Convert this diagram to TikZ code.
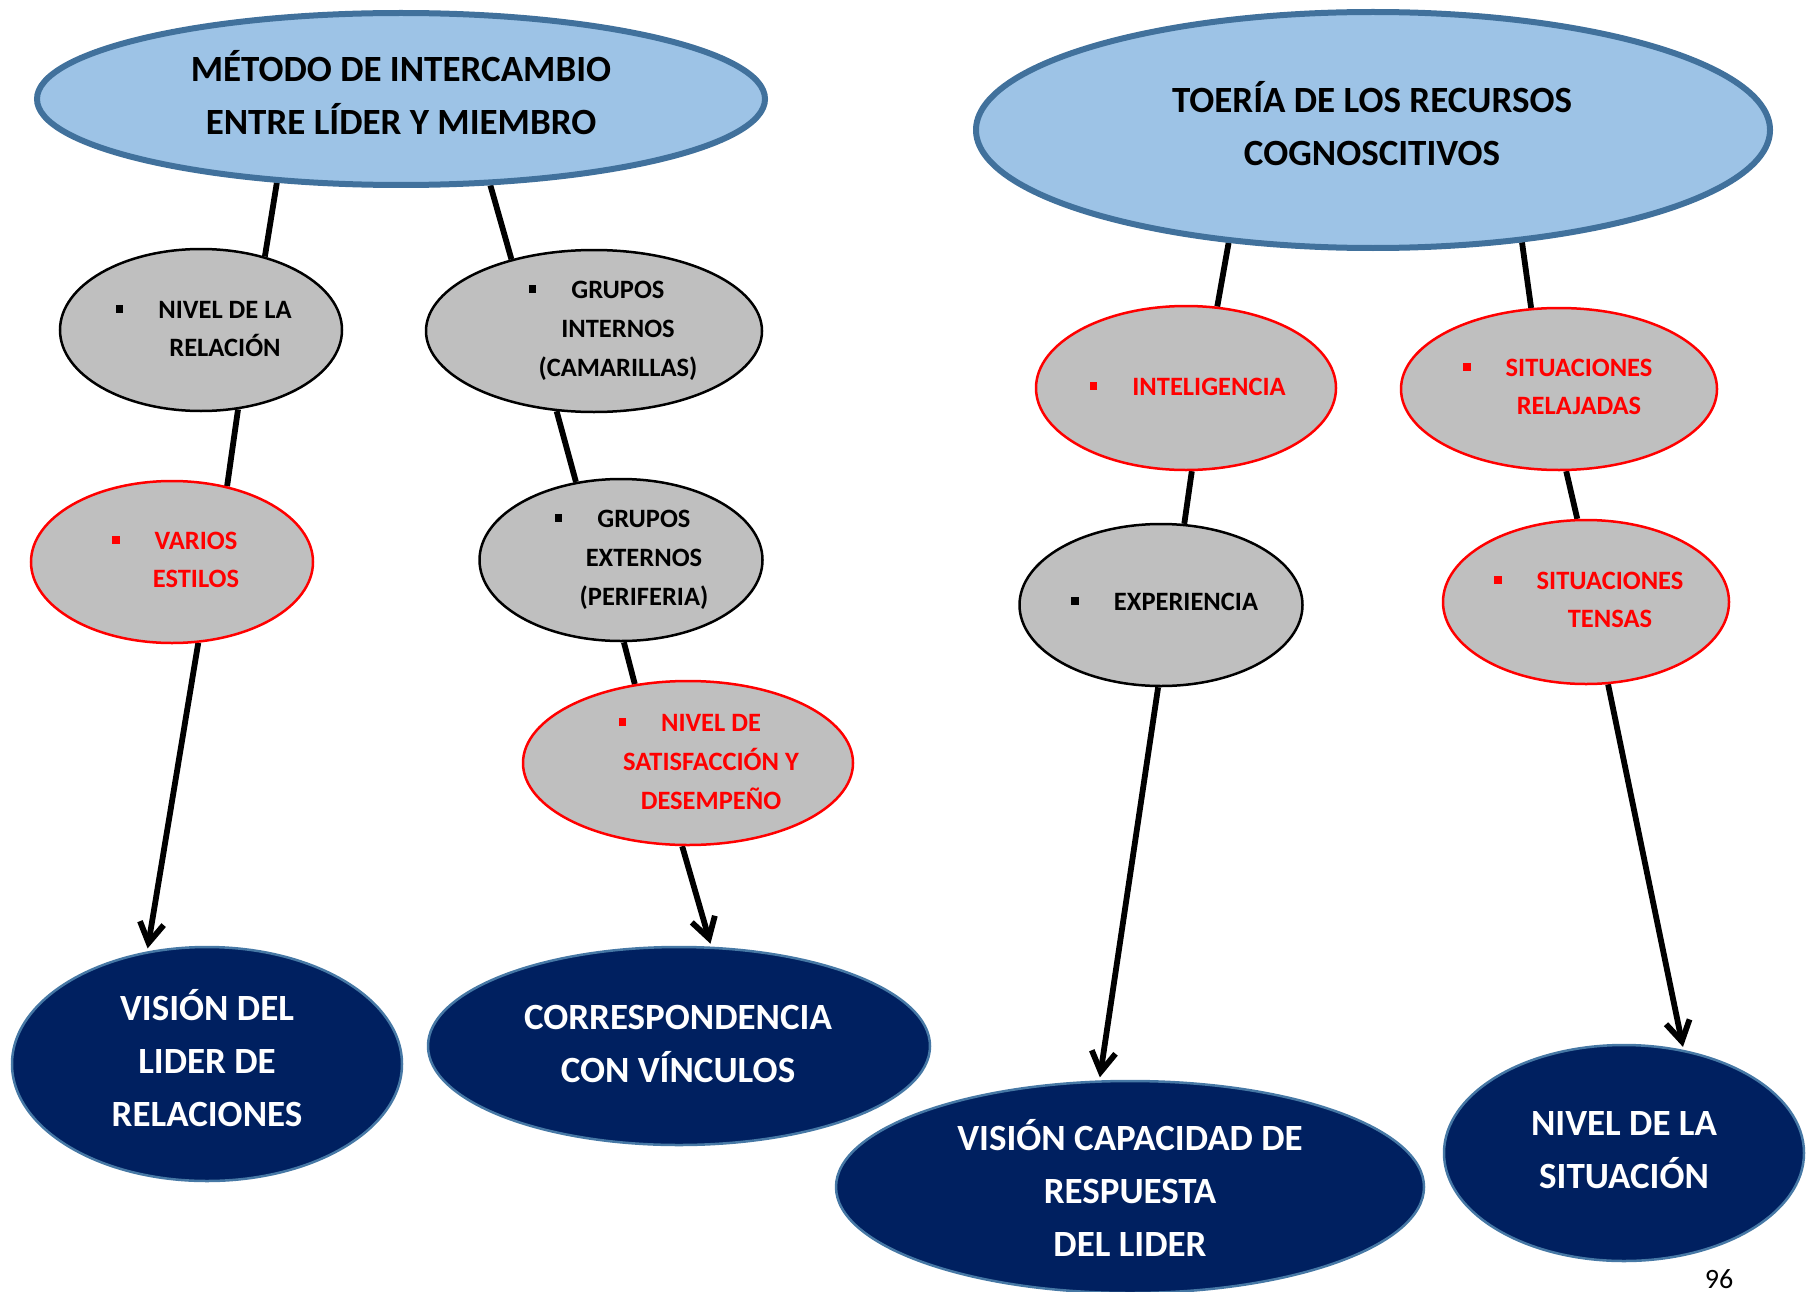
\documentclass[tikz,border=0pt]{standalone}
\usepackage{fontspec}
\setmainfont{Carlito}
\usetikzlibrary{shapes.geometric,arrows.meta}
\pgfdeclarelayer{bg}
\pgfsetlayers{bg,main}

\definecolor{titlefill}{RGB}{157,195,230}
\definecolor{titleline}{RGB}{65,113,156}
\definecolor{nodegray}{RGB}{191,191,191}
\definecolor{navy}{RGB}{0,32,96}
\definecolor{navyline}{RGB}{70,120,165}
\definecolor{hired}{RGB}{255,0,0}

% square list marker hanging left of the first line
\newcommand\sqmark{\llap{\rule[5.5pt]{7.5pt}{8pt}\hspace{35pt}}}

% text boxes run from the cap top of the first line to the baseline of the last,
% so the node centre is the visual centre of the block
% (cap height + (lines-1) * line spacing)
\tikzset{
  title/.style={ellipse, draw=titleline, line width=6pt, fill=titlefill, inner sep=0pt},
  item/.style={ellipse, draw=black, line width=2.5pt, fill=nodegray, inner sep=0pt},
  hot/.style={ellipse, draw=hired, line width=2.5pt, fill=nodegray, inner sep=0pt},
  result/.style={ellipse, draw=navyline, line width=2.5pt, fill=navy, inner sep=0pt},
  bigtxt/.style={align=center, inner sep=0pt, text height=#1, text depth=0pt,
    font=\fontsize{37}{53}\selectfont\bfseries},
  bigtxt/.default=24pt,
  smalltxt/.style={align=center, inner sep=0pt, text height=#1, text depth=0pt,
    font=\fontsize{26.5}{38.7}\selectfont\bfseries},
  smalltxt/.default=17pt,
  link/.style={line width=5.8pt, black},
  arrowlink/.style={link, -{Straight Barb[length=20pt,width=24pt]}, shorten >=3pt},
}

\begin{document}
\begin{tikzpicture}[x=1pt, y=-1pt]
\useasboundingbox (0,0) rectangle (1811,1292);

% ---- headings
\node[title, minimum width=728pt, minimum height=172pt] (metodo) at (401,99) {};
\node[bigtxt=77pt] (metodo-t) at (401,96) {MÉTODO DE INTERCAMBIO\\ENTRE LÍDER Y MIEMBRO};

\node[title, minimum width=794pt, minimum height=236pt] (toeria) at (1373,130) {};
\node[bigtxt=77pt] (toeria-t) at (1372,127) {TOERÍA DE LOS RECURSOS\\COGNOSCITIVOS};

% ---- left branch items
\node[item, minimum width=282pt, minimum height=162pt] (nivel) at (201,330) {};
\node[smalltxt=55.7pt] (nivel-t) at (225,329) {\sqmark NIVEL DE LA\\RELACIÓN};

\node[hot, minimum width=282pt, minimum height=162pt] (varios) at (172,562) {};
\node[smalltxt=55.7pt, text=hired] (varios-t) at (196,560) {\sqmark VARIOS\\ESTILOS};

\node[item, minimum width=336pt, minimum height=162pt] (gint) at (594,331) {};
\node[smalltxt=94.4pt] (gint-t) at (618,329) {\sqmark GRUPOS\\INTERNOS\\(CAMARILLAS)};

\node[item, minimum width=283pt, minimum height=162pt] (gext) at (621,560) {};
\node[smalltxt=94.4pt] (gext-t) at (644,558) {\sqmark GRUPOS\\EXTERNOS\\(PERIFERIA)};

\node[hot, minimum width=330pt, minimum height=164pt] (sat) at (688,763) {};
\node[smalltxt=94.4pt, text=hired] (sat-t) at (711,762) {\sqmark NIVEL DE\\SATISFACCIÓN Y\\DESEMPEÑO};

% ---- right branch items
\node[hot, minimum width=300pt, minimum height=164pt] (intel) at (1186,388) {};
\node[smalltxt, text=hired] (intel-t) at (1209,387) {\sqmark INTELIGENCIA};

\node[hot, minimum width=316pt, minimum height=162pt] (relaj) at (1559,389) {};
\node[smalltxt=55.7pt, text=hired] (relaj-t) at (1579,387) {\sqmark SITUACIONES\\RELAJADAS};

\node[item, minimum width=283pt, minimum height=162pt] (exper) at (1161,605) {};
\node[smalltxt] (exper-t) at (1186,602) {\sqmark EXPERIENCIA};

\node[hot, minimum width=286pt, minimum height=164pt] (tensas) at (1586,602) {};
\node[smalltxt=55.7pt, text=hired] (tensas-t) at (1610,600) {\sqmark SITUACIONES\\TENSAS};

% ---- outcomes
\node[result, minimum width=390pt, minimum height=234pt] (vis) at (207,1064) {};
\node[bigtxt=130pt, text=white] (vis-t) at (207,1061) {VISIÓN DEL\\LIDER DE\\RELACIONES};

\node[result, minimum width=502pt, minimum height=198pt] (corr) at (679,1046) {};
\node[bigtxt=77pt, text=white] (corr-t) at (678,1044) {CORRESPONDENCIA\\CON VÍNCULOS};

\node[result, minimum width=588pt, minimum height=212pt] (vcap) at (1130,1187) {};
\node[bigtxt=130pt, text=white] (vcap-t) at (1130,1191) {VISIÓN CAPACIDAD DE\\RESPUESTA\\DEL LIDER};

\node[result, minimum width=360pt, minimum height=216pt] (nsit) at (1624,1153) {};
\node[bigtxt=77pt, text=white] (nsit-t) at (1624,1150) {NIVEL DE LA\\SITUACIÓN};

% page number
\node[anchor=north, inner sep=0pt, font=\fontsize{28}{30}\selectfont] (pagenum) at (1719,1269) {96};

% ---- connectors
\begin{pgfonlayer}{bg}
\draw[link] (metodo.214.7) -- (nivel.49);
\draw[link] (metodo.-44) -- (gint.139.3);
\draw[link] (nivel.-65.7) -- (varios.54.9);
\draw[arrowlink] (varios.-72.6) -- (vis.118.5);
\draw[link] (gint.-115.1) -- (gext.120.1);
\draw[link] (gext.-88.6) -- (sat.124.7);
\draw[arrowlink] (sat.-94.9) -- (corr.72);

\draw[link] (toeria.-142.3) -- (intel.69.6);
\draw[link] (toeria.-37.3) -- (relaj.109.5);
\draw[link] (intel.-86.5) -- (exper.74.3);
\draw[arrowlink] (exper.-92.8) -- (vcap.106.4);
\draw[link] (relaj.-85.1) -- (tensas.96.3);
\draw[arrowlink] (tensas.-75) -- (nsit.60);
\end{pgfonlayer}
\end{tikzpicture}
\end{document}
